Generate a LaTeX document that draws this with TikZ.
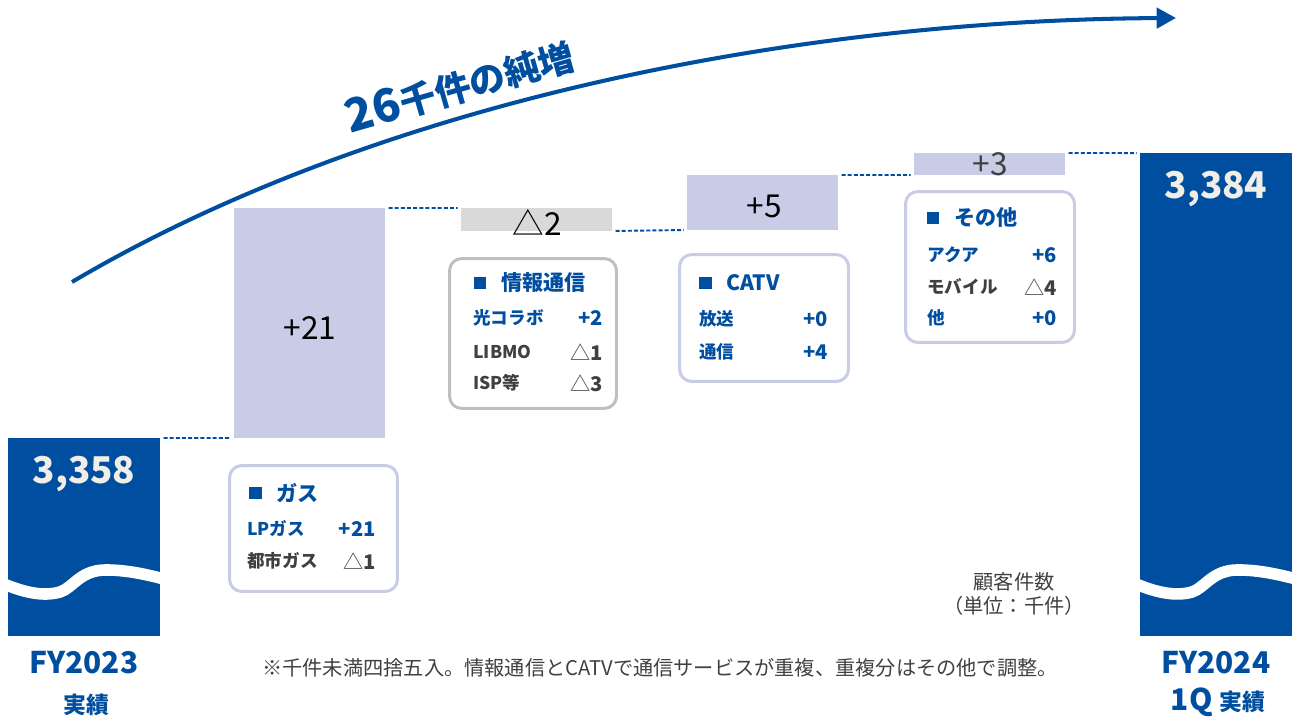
\documentclass[tikz,border=0pt]{standalone}
\usepackage{fontspec}
\setmainfont{Noto Sans CJK JP}
\usetikzlibrary{arrows.meta,positioning,calc}
\definecolor{brand}{RGB}{0,78,160}
\definecolor{lav}{RGB}{200,204,230}
\definecolor{barGray}{RGB}{217,217,217}
\definecolor{frameGray}{RGB}{191,191,191}
\definecolor{ink}{RGB}{64,64,64}
\definecolor{cream}{RGB}{240,238,230}
\tikzset{
  bar/.style={fill=#1, inner sep=0pt, outer sep=0pt},
  panel/.style={draw=#1, rounded corners=7pt, line width=1.7pt, fill=white, inner sep=0pt},
  link/.style={draw=brand, line width=1.1pt, dash pattern=on 2.3pt off 1.2pt, shorten <=2pt, shorten >=2pt},
  delta/.style={font=\fontsize{18}{18}\selectfont},
  total/.style={text=cream, font=\bfseries\fontsize{21}{21}\selectfont},
  sq/.style={fill=brand, minimum size=0.25cm, inner sep=0pt},
  head/.style={text=brand, inner sep=0pt, font=\bfseries\fontsize{12}{14}\selectfont},
  item/.style={anchor=west, inner sep=0pt, text=#1, font=\bfseries\fontsize{10}{12}\selectfont},
  val/.style={anchor=east, inner sep=0pt, text=#1, font=\bfseries\fontsize{11.5}{12}\selectfont},
  year/.style={text=brand, font=\bfseries\fontsize{17}{18}\selectfont},
  note/.style={text=ink, font=\fontsize{11.5}{14}\selectfont},
}
\newcommand{\dn}{{\mdseries △}}
\begin{document}
\begin{tikzpicture}[x=0.02cm, y=-0.02cm]
\useasboundingbox (0,0) rectangle (1293,722);

% growth arrow
\coordinate (gs) at (72,282);
\coordinate (ge) at (1176,18);
\draw[brand, line width=2.3pt, -{Triangle[length=11pt, width=11.5pt]}]
  (gs) .. controls (380,100) and (800,20) .. (ge);
\node[rotate=16, text=brand, font=\bfseries] (gain) at (460,86)
  {{\fontsize{26}{26}\selectfont 26}{\fontsize{20.5}{20.5}\selectfont 千件の純増}};

% bars
\node[bar=brand, minimum width=3.04cm, minimum height=3.96cm] (fy23) at (84,537) {};
\node[bar=lav, minimum width=3.02cm, minimum height=4.6cm] (gas) at (309.5,323) {};
\node[bar=barGray, minimum width=3.02cm, minimum height=0.46cm] (info) at (536.5,219.5) {};
\node[bar=lav, minimum width=3.02cm, minimum height=1.1cm] (catv) at (762.5,202.5) {};
\node[bar=lav, minimum width=3.02cm, minimum height=0.44cm] (other) at (989.5,164) {};
\node[bar=brand, minimum width=3.04cm, minimum height=9.66cm] (fy24) at (1216,394.5) {};

% waves
\foreach \b in {fy23,fy24}{
  \begin{scope}
    \clip (\b.south west) rectangle (\b.north east);
    \draw[white, line width=6.6pt, shift={(\b.south west)}]
      (-4,-52) .. controls (15,-44) and (35,-39) .. (52,-44)
      .. controls (65,-48) and (72,-66) .. (98,-66)
      .. controls (120,-66) and (140,-61) .. (156,-57);
  \end{scope}
}

% links
\draw[link] (fy23.north east) -- (gas.south west);
\draw[link] (gas.north east) -- (info.north west);
\draw[link] (info.south east) -- (catv.south west);
\draw[link] (catv.north east) -- (other.south west);
\draw[link] (other.north east) -- (fy24.north west);

% values
\node[total] (v23) at (84,474) {3,358};
\node[total] (v24) at (1216,189) {3,384};
\node[delta] (dgas) at (310,328) {+21};
\node[delta] (dinfo) at (537,222) {△2};
\node[delta] (dcatv) at (764,206) {+5};
\node[delta, text=ink] (dother) at (990,164) {+3};

% panel: gas
\node[panel=lav, minimum width=3.36cm, minimum height=2.52cm] (gasbox) at (313.5,528.5) {};
\node[sq] (gassq) at (255.5,493) {};
\node[head, right=8pt of gassq] {ガス};
\node[item=brand] (gas1) at (247,529) {LPガス};
\node[val=brand] at (376,529) {+21};
\node[item=ink] (gas2) at (247,561) {都市ガス};
\node[val=ink] at (376,561) {\dn1};

% panel: info
\node[panel=frameGray, minimum width=3.34cm, minimum height=3cm] (infobox) at (533,333.5) {};
\node[sq] (infosq) at (480,283) {};
\node[head, right=8pt of infosq] {情報通信};
\node[item=brand] (info1) at (473,318) {光コラボ};
\node[val=brand] at (603,318) {+2};
\node[item=ink] (info2) at (473,352) {LIBMO};
\node[val=ink] at (603,352) {\dn1};
\node[item=ink] (info3) at (473,383) {ISP等};
\node[val=ink] at (603,383) {\dn3};

% panel: catv
\node[panel=lav, minimum width=3.38cm, minimum height=2.54cm] (catvbox) at (764,318) {};
\node[sq] (catvsq) at (705.5,283) {};
\node[head, right=8pt of catvsq] {CATV};
\node[item=brand] (catv1) at (699,319) {放送};
\node[val=brand] at (828,319) {+0};
\node[item=brand] (catv2) at (699,352) {通信};
\node[val=brand] at (828,352) {+4};

% panel: other
\node[panel=lav, minimum width=3.38cm, minimum height=3.02cm] (otherbox) at (990,267) {};
\node[sq] (othersq) at (933,218) {};
\node[head, right=8pt of othersq] {その他};
\node[item=brand] (other1) at (927,255) {アクア};
\node[val=brand] at (1057,255) {+6};
\node[item=ink] (other2) at (927,287) {モバイル};
\node[val=ink] at (1057,287) {\dn4};
\node[item=brand] (other3) at (927,318) {他};
\node[val=brand] at (1057,318) {+0};

% labels
\node[year] (y23) at (84,663) {FY2023};
\node[year, font=\bfseries\fontsize{13}{14}\selectfont] (y23b) at (86,705) {実績};
\node[year] (y24) at (1216,663) {FY2024};
\node[year] (y24b) at (1218,702) {1Q {\fontsize{13}{14}\selectfont 実績}};
\node[note, align=center] (unit) at (1014,594) {顧客件数\\（単位：千件）};
\node[note] (fn) at (660,668) {※千件未満四捨五入。情報通信とCATVで通信サービスが重複、重複分はその他で調整。};
\end{tikzpicture}
\end{document}
